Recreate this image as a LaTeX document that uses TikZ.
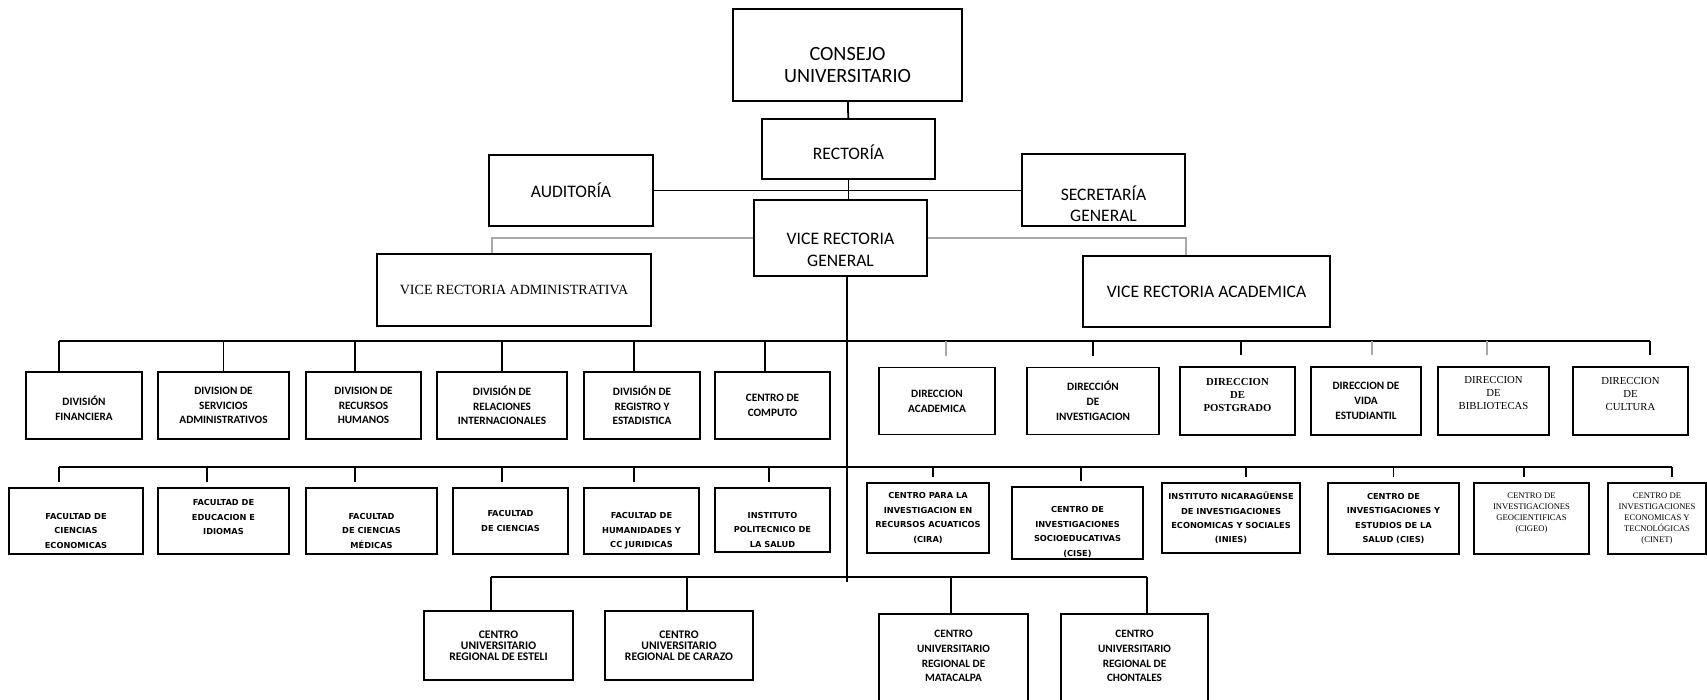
\documentclass[tikz,border=0pt]{standalone}
\usepackage{fontspec}
\setmainfont{Carlito}
\newfontfamily\serifrm{Liberation Serif}
\newfontfamily\widesf{DejaVu Sans}
\usetikzlibrary{positioning}
\definecolor{lgrey}{HTML}{A8A8A8}
% extra room above the first line / below the last line of a box text
\newcommand{\topgap}[1]{\rule{0pt}{#1}}
\newcommand{\botgap}[1]{\rule[-#1]{0pt}{#1}}
\tikzset{
  every picture/.style={line width=1pt},
  box/.style 2 args={draw, line width=1.1pt, align=center, inner sep=1pt,
    minimum width=#1*0.2mm, minimum height=#2*0.2mm},
  fbig/.style={font=\fontsize{11.5}{12.5}\selectfont},
  fmid/.style={font=\fontsize{10}{12}\selectfont},
  fvra/.style={font=\serifrm\fontsize{8}{10}\selectfont},
  fdiv/.style={font=\bfseries\fontsize{6.4}{8.4}\selectfont},
  fdir/.style={font=\serifrm\fontsize{6.1}{7.4}\selectfont},
  fdirb/.style={font=\serifrm\bfseries\fontsize{6.1}{7.4}\selectfont},
  ffac/.style={font=\widesf\bfseries\fontsize{4.7}{8.2}\selectfont},
  fcen/.style={font=\serifrm\fontsize{4.9}{6.2}\selectfont},
  fcur/.style={font=\bfseries\fontsize{6.6}{6.2}\selectfont},
  link/.style={draw, line width=1pt},
  glink/.style={draw=lgrey, line width=1.4pt},
}

\begin{document}
\begin{tikzpicture}[x=0.2mm, y=-0.2mm]
  \useasboundingbox (0,0) rectangle (1707,700);
  \clip (0,0) rectangle (1707,700);
  % top of the chart
  \node[box={229}{92}, fbig] (cons) at (847.5,55) {\topgap{19pt}CONSEJO\\UNIVERSITARIO};
  \node[box={173}{60}, fmid] (rect) at (848.5,149) {\topgap{12pt}RECTORÍA};
  \node[box={164}{71}, fmid] (aud) at (571,190.5) {AUDITORÍA};
  \node[box={163}{72}, fmid] (sec) at (1103.5,190) {\topgap{24pt}SECRETARÍA\\GENERAL};
  \node[box={173}{76}, fmid] (vrg) at (840.5,238) {\topgap{20pt}VICE RECTORIA\\GENERAL};
  \node[box={274}{72}, fvra] (vradm) at (514,290) {VICE RECTORIA ADMINISTRATIVA};
  \node[box={247}{71}, fmid] (vracad) at (1206.5,291.5) {VICE RECTORIA ACADEMICA};
  \coordinate (busA) at (847,341);
  \coordinate (busB) at (847,467);
  \coordinate (busC) at (847,577);
  \coordinate (hub) at (847,582);
  % divisiones
  \node[box={116}{67}, fdiv] (d1) at (84,405.5) {\topgap{9pt}DIVISIÓN\\FINANCIERA};
  \node[box={131}{67}, fdiv] (d2) at (223.5,405.5) {DIVISION DE\\SERVICIOS\\ADMINISTRATIVOS};
  \node[box={115}{67}, fdiv] (d3) at (363.5,405.5) {DIVISION DE\\RECURSOS\\HUMANOS};
  \node[box={130}{67}, fdiv] (d4) at (502,405.5) {DIVISIÓN DE\\RELACIONES\\INTERNACIONALES};
  \node[box={116}{67}, fdiv] (d5) at (642,405.5) {DIVISIÓN DE\\REGISTRO Y\\ESTADISTICA};
  \node[box={115}{67}, fdiv] (d6) at (772.5,405.5) {CENTRO DE\\COMPUTO};
  % direcciones
  \node[box={116}{67}, fdiv] (r1) at (937,401) {DIRECCION\\ACADEMICA};
  \node[box={132}{67}, fdiv] (r2) at (1093,401) {DIRECCIÓN\\DE\\INVESTIGACION};
  \node[box={115}{68}, fdirb] (r3) at (1237.5,401) {DIRECCION\\DE\\POSTGRADO\botgap{7pt}};
  \node[box={110}{68}, fdiv] (r4) at (1366,401) {DIRECCION DE\\VIDA\\ESTUDIANTIL};
  \node[box={111}{68}, fdir] (r5) at (1493.5,401) {DIRECCION\\DE\\BIBLIOTECAS\botgap{9pt}};
  \node[box={115}{68}, fdir] (r6) at (1630.5,401) {DIRECCION\\DE\\CULTURA\botgap{8pt}};
  % facultades
  \node[box={134}{66}, ffac] (f1) at (76,521) {\topgap{14.8pt}FACULTAD DE\\CIENCIAS\\ECONOMICAS};
  \node[box={131}{66}, ffac] (f2) at (223.5,521) {FACULTAD DE\\EDUCACION E\\IDIOMAS\botgap{4.5pt}};
  \node[box={131}{66}, ffac] (f3) at (371.5,521) {\topgap{14.8pt}FACULTAD\\DE CIENCIAS\\MÉDICAS};
  \node[box={115}{66}, ffac] (f4) at (510.5,521) {FACULTAD\\DE CIENCIAS};
  \node[box={115}{66}, ffac] (f5) at (641.5,521) {\topgap{14.8pt}FACULTAD DE\\HUMANIDADES Y\\CC JURIDICAS};
  \node[box={115}{64}, ffac] (f6) at (772.5,520) {\topgap{14.8pt}INSTITUTO\\POLITECNICO DE\\LA SALUD};
  % centros de investigacion
  \node[box={122}{70}, ffac] (c1) at (928,518) {CENTRO PARA LA\\INVESTIGACION EN\\RECURSOS ACUATICOS\\(CIRA)};
  \node[box={131}{70}, ffac] (c2) at (1077.5,523) {\topgap{13.6pt}CENTRO DE\\INVESTIGACIONES\\SOCIOEDUCATIVAS\\(CISE)};
  \node[box={138}{70}, ffac] (c3) at (1231,518) {INSTITUTO NICARAGÜENSE\\DE INVESTIGACIONES\\ECONOMICAS Y SOCIALES\\(INIES)};
  \node[box={131}{71}, ffac] (c4) at (1393.5,518.5) {CENTRO DE\\INVESTIGACIONES Y\\ESTUDIOS DE LA\\SALUD (CIES)};
  \node[box={115}{71}, fcen] (c5) at (1531.5,518.5) {CENTRO DE\\INVESTIGACIONES\\GEOCIENTIFICAS\\(CIGEO)\botgap{7pt}};
  \node[box={98}{71}, fcen] (c6) at (1657,518.5) {CENTRO DE\\INVESTIGACIONES\\ECONOMICAS Y\\TECNOLÓGICAS\\(CINET)};
  % centros regionales
  \node[box={149}{69}, fcur] (e1) at (498.5,645.5) {CENTRO\\UNIVERSITARIO\\REGIONAL DE ESTELI};
  \node[box={148}{69}, fcur] (e2) at (679,645.5) {CENTRO\\UNIVERSITARIO\\REGIONAL DE CARAZO};
  \node[box={149}{100}, fdiv] (e3) at (953.5,664) {CENTRO\\UNIVERSITARIO\\REGIONAL DE\\MATACALPA\botgap{9pt}};
  \node[box={147}{100}, fdiv] (e4) at (1134.5,664) {CENTRO\\UNIVERSITARIO\\REGIONAL DE\\CHONTALES\botgap{9pt}};
  % connectors
  \draw[link] (cons) -- (rect);
  \draw[link] (rect.south) -- (rect.south |- vrg.north);
  \draw[link] (aud.east) -- (aud.east -| sec.west);
  \draw[glink] (vrg.west) -| ([xshift=-4.4mm]vradm.north);
  \draw[glink] (vrg.east) -| ([xshift=-4.1mm]vracad.north);
  \draw[link] (vrg.south -| busA) -- (hub);
  \draw[link] ([xshift=-5mm]d1.north |- busA) -- ([xshift=3.9mm]r6.north |- busA);
  \foreach \n/\dx in {d1/-5mm, d2/0mm, d3/-1.7mm, d4/0mm, d5/-1.6mm, d6/-1.5mm}
    \draw[link] ([xshift=\dx]\n.north) -- ([xshift=\dx]\n.north |- busA);
  \foreach \n/\dx/\c in {r1/1.8mm/lgrey, r2/0mm/black, r3/0.7mm/black, r4/1.2mm/lgrey, r5/-1.3mm/lgrey, r6/3.9mm/black}
    \draw[link, draw=\c, shorten <=2.2mm] ([xshift=\dx]\n.north) -- ([xshift=\dx]\n.north |- busA);
  \draw[link] ([xshift=-3.4mm]f1.north |- busB) -- ([xshift=3mm]c6.north |- busB);
  \foreach \n/\dx in {f1/-3.4mm, f2/-3.3mm, f3/-3.3mm, f4/-1.7mm, f5/-1.5mm, f6/-0.7mm, c1/1mm, c2/0.7mm, c3/3mm, c4/0mm, c5/-1.5mm, c6/3mm}
    \draw[link, shorten <=1mm] ([xshift=\dx]\n.north) -- ([xshift=\dx]\n.north |- busB);
  \draw[link] ([xshift=-1.5mm]e1.north |- busC) -- ([xshift=2.5mm]e4.north |- busC);
  \foreach \n/\dx in {e1/-1.5mm, e2/1.6mm, e3/-0.5mm, e4/2.5mm}
    \draw[link] ([xshift=\dx]\n.north) -- ([xshift=\dx]\n.north |- busC);
\end{tikzpicture}
\end{document}
